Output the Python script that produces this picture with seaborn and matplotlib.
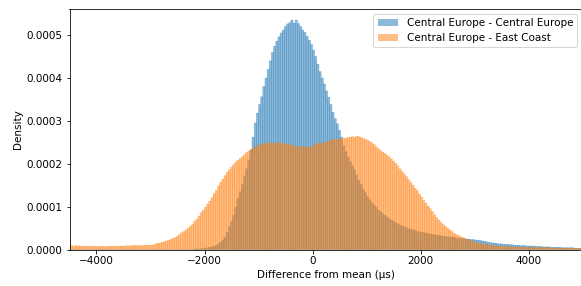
import numpy as np
import pandas as pd
import matplotlib
matplotlib.use("Agg")
import matplotlib.pyplot as plt
from matplotlib.colors import to_rgba
from matplotlib.patches import Patch
import seaborn as sns

plt.rcParams["font.size"] = 10.4

# histogram bins (µs), 40 µs wide
bin_width = 40
bin_range = (-4520, 5000)
bin_centers = np.arange(bin_range[0] + bin_width / 2, bin_range[1], bin_width)

# densities, in units of 1e-6
ce_ce = [
    0, 0, 0, 0, 0, 0, 0, 0, 0, 0,            # -4500 .. -4140
    0, 0, 0, 0, 0, 0, 0, 0, 0, 0,            # -4100 .. -3740
    0, 0, 0, 0, 0, 0, 0, 0, 0, 0,            # -3700 .. -3340
    0, 0, 0, 0, 0, 0, 0, 0, 0, 0,            # -3300 .. -2940
    0, 0, 0, 0, 0, 0, 0, 0, 0, 0,            # -2900 .. -2540
    0, 0, 0, 0, 0, 0, 0, 0, 1, 1,            # -2500 .. -2140
    1, 2, 2, 3, 4, 5, 6, 8, 10, 13,          # -2100 .. -1740
    17, 22, 29, 40, 53, 66, 80, 99, 119, 135,  # -1700 .. -1340
    152, 170, 188, 209, 232, 262, 295, 318, 338, 356,  # -1300 .. -940
    380, 400, 420, 440, 460, 474, 486, 496, 505, 512,  # -900 .. -540
    520, 526, 529, 535, 528, 535, 527, 520, 512, 506,  # -500 .. -140
    497, 488, 478, 465, 450, 432, 415, 400, 386, 370,  # -100 .. 260
    355, 338, 320, 305, 293, 278, 262, 242, 228, 216,  # 300 .. 660
    205, 196, 186, 173, 161, 152, 141, 132, 124, 116,  # 700 .. 1060
    110, 104, 98, 92, 88, 84, 80, 76, 72, 69,  # 1100 .. 1460
    66, 63, 60, 57, 55, 53, 51, 49, 47, 46,  # 1500 .. 1860
    44, 42, 41, 40, 39, 38, 37, 36, 35, 34,  # 1900 .. 2260
    33, 33, 32, 31, 30, 30, 29, 29, 28, 27,  # 2300 .. 2660
    26, 26, 25, 25, 24, 24, 23, 23, 22, 22,  # 2700 .. 3060
    21, 20, 19, 18, 17, 16, 15, 15, 14, 13,  # 3100 .. 3460
    13, 12, 12, 12, 11, 11, 10, 10, 10, 9,   # 3500 .. 3860
    9, 9, 8, 8, 8, 8, 7, 7, 7, 6,            # 3900 .. 4260
    6, 6, 6, 5, 5, 5, 5, 5, 4, 4,            # 4300 .. 4660
    4, 4, 4, 4, 3, 3, 3, 3,                  # 4700 .. 4980
]
ce_ec = [
    9, 9, 8, 9, 8, 8, 8, 8, 7, 8,            # -4500 .. -4140
    7, 8, 7, 7, 7, 8, 7, 7, 8, 7,            # -4100 .. -3740
    8, 7, 8, 8, 8, 8, 8, 9, 8, 9,            # -3700 .. -3340
    9, 9, 9, 9, 9, 10, 10, 10, 10, 11,       # -3300 .. -2940
    13, 14, 15, 17, 18, 20, 21, 24, 26, 28,  # -2900 .. -2540
    31, 35, 39, 42, 46, 50, 54, 59, 66, 71,  # -2500 .. -2140
    78, 86, 92, 99, 106, 113, 121, 130, 138, 148,  # -2100 .. -1740
    157, 164, 172, 180, 186, 192, 198, 204, 208, 212,  # -1700 .. -1340
    216, 221, 226, 229, 233, 236, 239, 241, 243, 245,  # -1300 .. -940
    247, 246, 248, 249, 248, 248, 247, 249, 248, 247,  # -900 .. -540
    246, 245, 244, 243, 242, 240, 239, 238, 240, 239,  # -500 .. -140
    238, 239, 240, 242, 245, 247, 248, 247, 249, 250,  # -100 .. 260
    252, 255, 257, 256, 257, 258, 257, 259, 260, 261,  # 300 .. 660
    262, 263, 262, 264, 263, 261, 259, 257, 255, 252,  # 700 .. 1060
    249, 245, 240, 235, 231, 227, 224, 220, 216, 211,  # 1100 .. 1460
    206, 201, 195, 188, 182, 176, 170, 163, 157, 150,  # 1500 .. 1860
    143, 137, 129, 122, 115, 108, 101, 95, 88, 81,  # 1900 .. 2260
    75, 69, 63, 58, 54, 50, 46, 42, 38, 35,  # 2300 .. 2660
    32, 30, 28, 26, 24, 22, 20, 18, 16, 15,  # 2700 .. 3060
    14, 13, 12, 11, 10, 10, 9, 9, 8, 8,      # 3100 .. 3460
    8, 7, 7, 7, 6, 6, 6, 6, 5, 5,            # 3500 .. 3860
    5, 5, 5, 5, 5, 4, 4, 4, 4, 4,            # 3900 .. 4260
    4, 4, 4, 4, 3, 3, 3, 3, 3, 3,            # 4300 .. 4660
    3, 3, 3, 3, 3, 3, 2, 2,                  # 4700 .. 4980
]

labels = ["Central Europe - Central Europe", "Central Europe - East Coast"]
series = [ce_ce, ce_ec]
colors = ["tab:blue", "tab:orange"]

fig = plt.figure(figsize=(581 / 72, 286 / 72), dpi=72)
ax = fig.add_axes([69.5 / 581, 36.5 / 286, 513 / 581, 241 / 286])

for label, vals, color in zip(labels, series, colors):
    df = pd.DataFrame({"x": bin_centers, "w": np.array(vals) * 1e-6})
    sns.histplot(data=df, x="x", weights="w", binwidth=bin_width,
                 binrange=bin_range, stat="count", color=color, alpha=0.5,
                 edgecolor=to_rgba(color, 0.5), linewidth=0.5, snap=False,
                 ax=ax)

ax.set_xlim(-4500, 5000)
ax.set_ylim(0, 0.000562)
ax.set_xlabel("Difference from mean (µs)")
ax.set_ylabel("Density")

handles = [Patch(facecolor=to_rgba(c, 0.5), edgecolor="none") for c in colors]
ax.legend(handles, labels, loc="upper right")

fig.savefig("out.png", dpi=72)
